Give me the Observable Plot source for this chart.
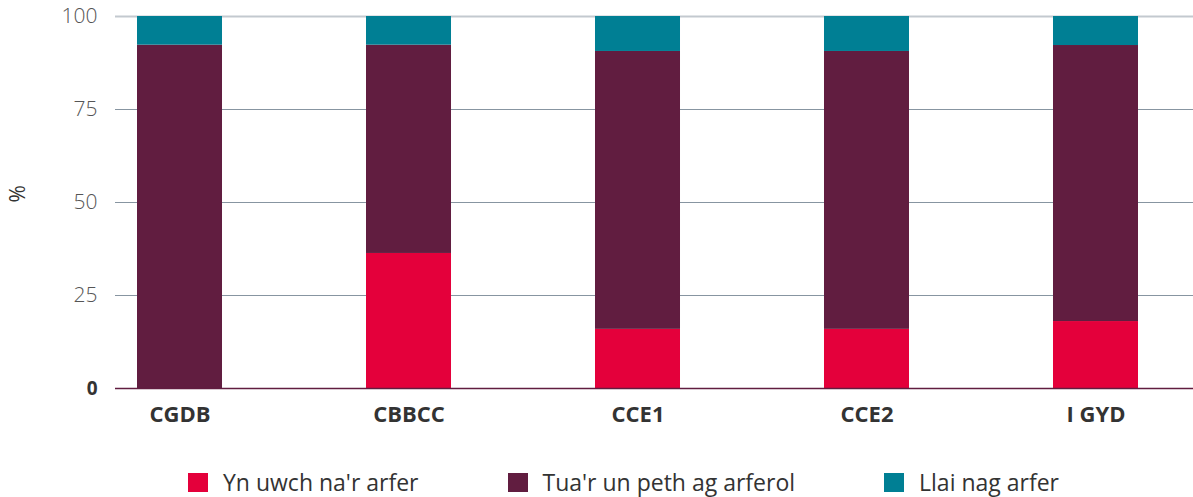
<!DOCTYPE html>
<html>
<head>
<meta charset="utf-8">
<script src="https://cdn.jsdelivr.net/npm/d3@7"></script>
<script src="https://cdn.jsdelivr.net/npm/@observablehq/plot@0.6"></script>
<style>
  html, body { margin: 0; padding: 0; background: #fff; }
  body { width: 1193px; height: 497px; overflow: hidden; font-family: "Open Sans", Lato, sans-serif; }
  #legend { display: flex; align-items: center; height: 30px; margin-top: 27px; padding-left: 188px; font-size: 23px; color: #333; }
  .item { display: flex; align-items: center; }
  .sw { width: 20px; height: 19px; margin-right: 15px; }
</style>
</head>
<body>
<div id="chart"></div>
<div id="legend"></div>
<script>
const categories = ["CGDB", "CBBCC", "CCE1", "CCE2", "I GYD"];
const seriesNames = ["Yn uwch na'r arfer", "Tua'r un peth ag arferol", "Llai nag arfer"];
const higher = [0, 36.3, 15.9, 15.9, 18.0];
const same = [92.3, 56.0, 74.7, 74.7, 74.2];
const lower = [7.7, 7.7, 9.4, 9.4, 7.8];
const colors = ["#e4003b", "#611d40", "#007f94"];
const yTicks = [25, 50, 75, 100];

const seriesValues = [higher, same, lower];
const data = [];
seriesNames.forEach((s, i) => categories.forEach((c, j) => data.push({cat: c, series: s, value: seriesValues[i][j]})));

const chart = Plot.plot({
  width: 1193,
  height: 440,
  marginLeft: 115,
  marginRight: 0,
  marginTop: 16,
  marginBottom: 52,
  style: {fontFamily: "'Open Sans', Lato, sans-serif", background: "#fff", overflow: "visible", display: "block"},
  x: {domain: categories, range: [137, 1138], paddingInner: 0.6288, paddingOuter: 0, round: false, label: null},
  y: {domain: [0, 100], label: null},
  color: {domain: seriesNames, range: colors},
  marks: [
    Plot.ruleY([25, 50, 75], {stroke: "#8795a1", strokeWidth: 1}),
    Plot.ruleY([100], {stroke: "#c3c9cf", strokeWidth: 2}),
    Plot.barY(data, {x: "cat", y: "value", fill: "series", order: seriesNames}),
    Plot.ruleY([0], {stroke: "#611d40", strokeWidth: 1.5}),
    Plot.axisY(yTicks, {tickSize: 0, tickPadding: 18, fontSize: 21, fill: "#555", fontWeight: 300, label: null}),
    Plot.axisY([0], {tickSize: 0, tickPadding: 18, fontSize: 19, fill: "#333", fontWeight: "bold", label: null}),
    Plot.axisX({tickSize: 0, tickPadding: 18, fontSize: 22, fill: "#333", fontWeight: "bold", label: null}),
    Plot.text(["%"], {frameAnchor: "left", dx: -97, rotate: -90, fontSize: 21, fill: "#333"})
  ]
});
document.getElementById("chart").appendChild(chart);

const legend = document.getElementById("legend");
seriesNames.forEach((s, i) => {
  const item = document.createElement("div");
  item.className = "item";
  if (i > 0) item.style.marginLeft = "89px";
  const sw = document.createElement("span");
  sw.className = "sw";
  sw.style.background = colors[i];
  const t = document.createElement("span");
  t.textContent = s;
  item.appendChild(sw);
  item.appendChild(t);
  legend.appendChild(item);
});
</script>
</body>
</html>
